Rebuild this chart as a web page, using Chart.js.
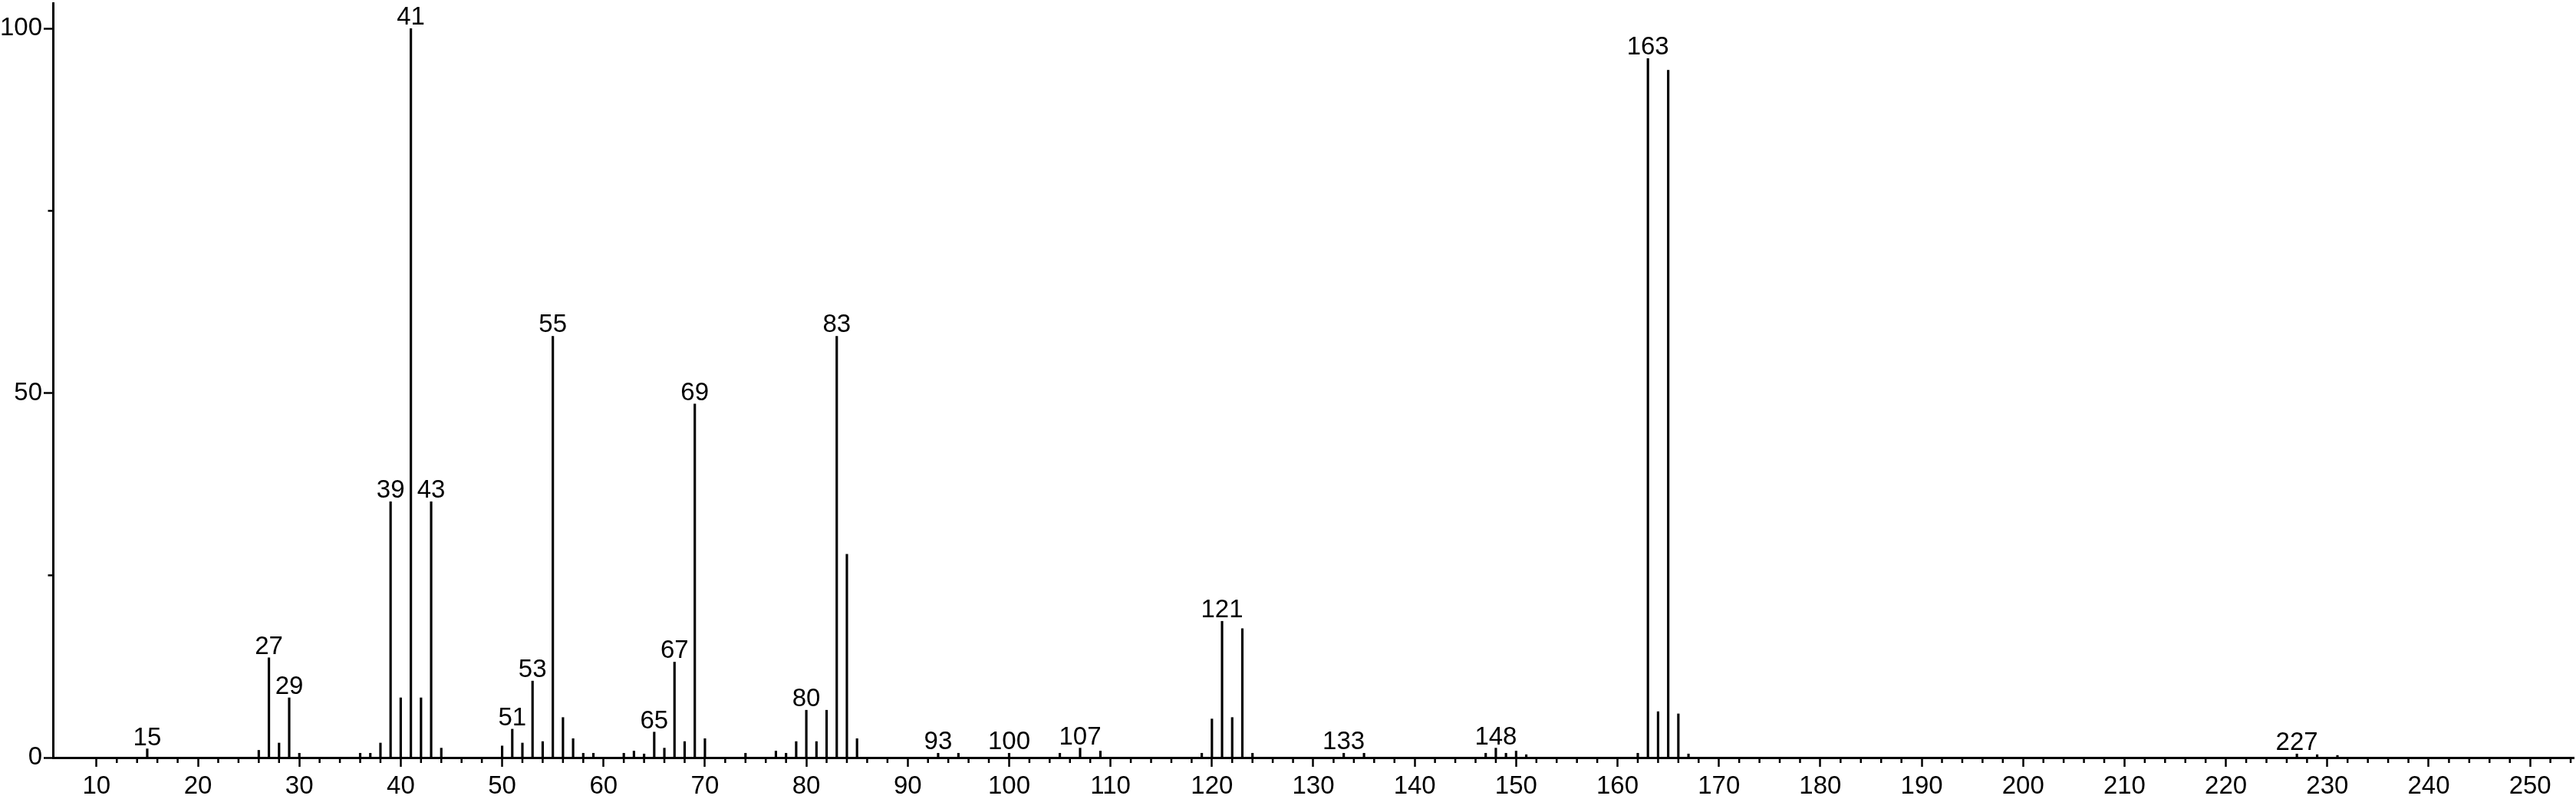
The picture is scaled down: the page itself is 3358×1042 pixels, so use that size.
<!DOCTYPE html>
<html><head><meta charset="utf-8">
<script src="https://cdn.jsdelivr.net/npm/chart.js@4"></script>
<style>html,body{margin:0;padding:0;background:#fff}canvas{display:block}</style>
</head><body>
<canvas id="c" width="3358" height="1042"></canvas>
<script>
// m/z values and relative intensities (%)
const masses = [15,26,27,28,29,30,36,37,38,39,40,41,42,43,44,50,51,52,53,54,55,56,57,58,59,62,63,64,65,66,67,68,69,70,74,77,78,79,80,81,82,83,84,85,93,95,100,105,107,109,119,120,121,122,123,124,133,135,147,148,149,150,151,162,163,164,165,166,167,227,229,231];
const intensities = [1.2,1.0,13.7,2.0,8.2,0.6,0.6,0.6,2.0,35.1,8.2,100,8.2,35.1,1.3,1.6,3.9,2.0,10.5,2.2,57.8,5.5,2.6,0.6,0.6,0.6,0.9,0.5,3.5,1.3,13.1,2.2,48.5,2.6,0.6,0.9,0.6,2.2,6.5,2.2,6.5,57.8,27.9,2.6,0.6,0.6,0.6,0.6,1.3,0.9,0.6,5.3,18.7,5.5,17.7,0.6,0.6,0.6,0.6,1.3,0.6,0.9,0.4,0.6,95.9,6.3,94.3,6.0,0.5,0.5,0.4,0.3];
const labeledPeaks = [15,27,29,39,41,43,51,53,55,65,67,69,80,83,93,100,107,121,133,148,163,227];
const xMajorTicks = [10,20,30,40,50,60,70,80,90,100,110,120,130,140,150,160,170,180,190,200,210,220,230,240,250];
const xMinorTicks = [12,14,16,18,22,24,26,28,32,34,36,38,42,44,46,48,52,54,56,58,62,64,66,68,72,74,76,78,82,84,86,88,92,94,96,98,102,104,106,108,112,114,116,118,122,124,126,128,132,134,136,138,142,144,146,148,152,154,156,158,162,164,166,168,172,174,176,178,182,184,186,188,192,194,196,198,202,204,206,208,212,214,216,218,222,224,226,228,232,234,236,238,242,244,246,248,252,254];
const yMajorTicks = [0,50,100];
const yMinorTicks = [25,75];

const FONT = "'Liberation Sans',Arial,sans-serif";

const peakLabels = {
  id: 'peakLabels',
  afterDatasetsDraw(chart) {
    const ctx = chart.ctx;
    const meta = chart.getDatasetMeta(0);
    ctx.save();
    ctx.font = '33px ' + FONT;
    ctx.fillStyle = '#000';
    ctx.textAlign = 'center';
    ctx.textBaseline = 'alphabetic';
    meta.data.forEach((el, i) => {
      if (labeledPeaks.includes(masses[i])) ctx.fillText(String(masses[i]), el.x, el.y - 5);
    });
    ctx.restore();
  }
};

const minorTicks = {
  id: 'minorTicks',
  afterDraw(chart) {
    const ctx = chart.ctx;
    const xs = chart.scales.x, ys = chart.scales.y;
    const y0 = ys.getPixelForValue(0);
    const left = chart.chartArea.left;
    ctx.save();
    ctx.strokeStyle = '#000';
    ctx.lineWidth = 2.5;
    xMinorTicks.forEach(v => {
      const px = xs.getPixelForValue(v);
      ctx.beginPath(); ctx.moveTo(px, y0); ctx.lineTo(px, y0 + 7); ctx.stroke();
    });
    yMinorTicks.forEach(v => {
      const py = ys.getPixelForValue(v);
      ctx.beginPath(); ctx.moveTo(left, py); ctx.lineTo(left - 6.5, py); ctx.stroke();
    });
    ctx.restore();
  }
};

new Chart(document.getElementById('c'), {
  type: 'bar',
  data: {
    datasets: [{
      data: masses.map((m, i) => ({ x: m, y: intensities[i] })),
      backgroundColor: '#000',
      borderWidth: 0,
      barThickness: 2.5
    }]
  },
  options: {
    responsive: false,
    animation: false,
    devicePixelRatio: 1,
    layout: { padding: { top: 4, right: 3, left: 0, bottom: 0 } },
    plugins: { legend: { display: false }, tooltip: { enabled: false } },
    scales: {
      x: {
        type: 'linear',
        min: 5.7, max: 254.3,
        offset: false,
        afterBuildTicks: (a) => { a.ticks = xMajorTicks.map(v => ({ value: v })); },
        afterFit: (s) => { s.height = 54; s.paddingLeft = 0; s.paddingRight = 0; },
        border: { display: true, color: '#000', width: 3 },
        grid: { drawOnChartArea: false, drawTicks: true, tickLength: 12, tickWidth: 2.5, tickColor: '#000', offset: false },
        ticks: { color: '#000', padding: 6, maxRotation: 0, autoSkip: false, font: { family: FONT, size: 33 } }
      },
      y: {
        min: 0, max: 103.5,
        afterBuildTicks: (a) => { a.ticks = yMajorTicks.map(v => ({ value: v })); },
        afterFit: (s) => { s.width = 69; s.paddingTop = 0; s.paddingBottom = 0; },
        border: { display: true, color: '#000', width: 3 },
        grid: { drawOnChartArea: false, drawTicks: true, tickLength: 12, tickWidth: 2.5, tickColor: '#000' },
        ticks: { color: '#000', padding: 2, font: { family: FONT, size: 33 } }
      }
    }
  },
  plugins: [peakLabels, minorTicks]
});
</script>
</body></html>
